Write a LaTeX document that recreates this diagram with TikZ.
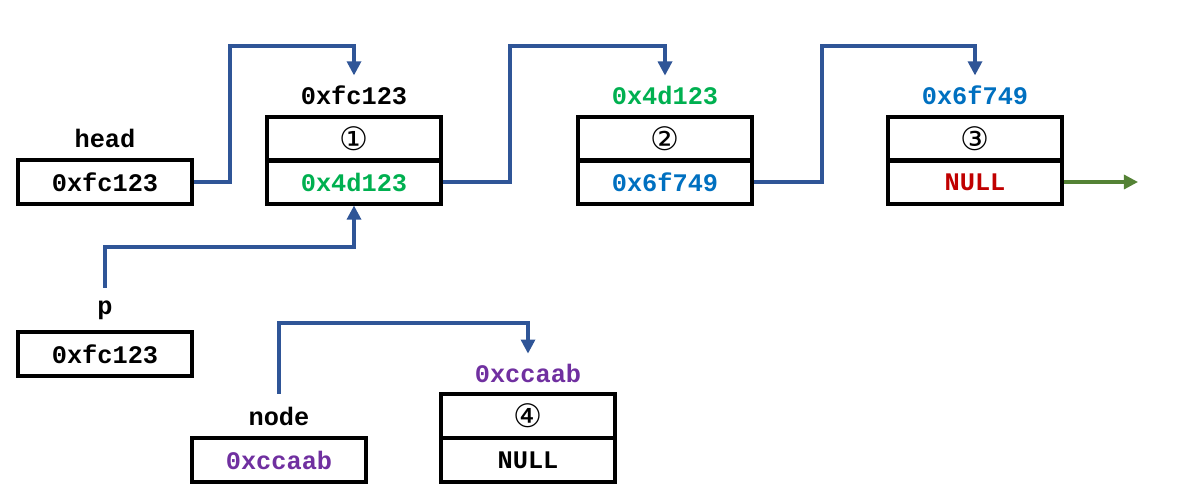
\documentclass[tikz,border=0pt]{standalone}
\usepackage{fontspec}
\setmonofont{Liberation Mono}
\newfontfamily\circfont{DejaVu Sans}
\usetikzlibrary{arrows.meta}

\definecolor{linkblue}{HTML}{2F5597}
\definecolor{addrgreen}{HTML}{00B050}
\definecolor{addrblue}{HTML}{0070C0}
\definecolor{addrpurple}{HTML}{7030A0}
\definecolor{nullred}{HTML}{C00000}
\definecolor{endgreen}{HTML}{548235}

\begin{document}
\begin{tikzpicture}[x=0.025cm,y=-0.025cm]
\tikzset{
  cell/.style={draw,line width=2.2pt,minimum width=4.35cm,minimum height=1.1cm,inner sep=0pt,font=\ttfamily\bfseries\fontsize{18}{20}\selectfont},
  numcell/.style={cell,font=\circfont\fontsize{23}{24}\selectfont},
  addr/.style={font=\ttfamily\bfseries\fontsize{18}{20}\selectfont,inner sep=1pt},
  link/.style={-{Triangle[length=10pt,width=10pt]},line width=2.2pt,draw=linkblue},
  endlink/.style={-{Triangle[length=10pt,width=10pt]},line width=2.2pt,draw=endgreen}
}
\useasboundingbox (0,0) rectangle (1184,498);
% pointer variables
\node[addr] (l_head) at (105,138) {head};
\node[cell] (v_head) at (105,182) {0xfc123};
\node[addr] (l_p) at (105,310) {p};
\node[cell] (v_p) at (105,354) {0xfc123};
\node[addr] (l_node) at (279,416) {node};
\node[cell,text=addrpurple] (v_node) at (279,460) {0xccaab};
% list nodes
\node[addr] (a_1) at (354,95) {0xfc123};
\node[numcell] (d_1) at (354,139) {①};
\node[cell,text=addrgreen] (x_1) at (354,182) {0x4d123};
\node[addr,text=addrgreen] (a_2) at (665,95) {0x4d123};
\node[numcell] (d_2) at (665,139) {②};
\node[cell,text=addrblue] (x_2) at (665,182) {0x6f749};
\node[addr,text=addrblue] (a_3) at (975,95) {0x6f749};
\node[numcell] (d_3) at (975,139) {③};
\node[cell,text=nullred] (x_3) at (975,182) {NULL};
\node[addr,text=addrpurple] (a_4) at (528,373) {0xccaab};
\node[numcell] (d_4) at (528,416) {④};
\node[cell] (x_4) at (528,460) {NULL};
\coordinate (tail) at (1138,182);
% links
\draw[link,shorten >=6pt] (v_head.east) -- (230,182) -- (230,46) -- (354,46) -- (a_1.north);
\draw[link,shorten >=6pt] (x_1.east) -- (510,182) -- (510,46) -- (665,46) -- (a_2.north);
\draw[link,shorten >=6pt] (x_2.east) -- (822,182) -- (822,46) -- (975,46) -- (a_3.north);
\draw[endlink] (x_3.east) -- (tail);
\draw[link,shorten <=8pt] (l_p.north) -- (105,247) -- (354,247) -- (x_1.south);
\draw[link,shorten <=8pt,shorten >=6pt] (l_node.north) -- (279,323) -- (528,323) -- (a_4.north);
\end{tikzpicture}
\end{document}
